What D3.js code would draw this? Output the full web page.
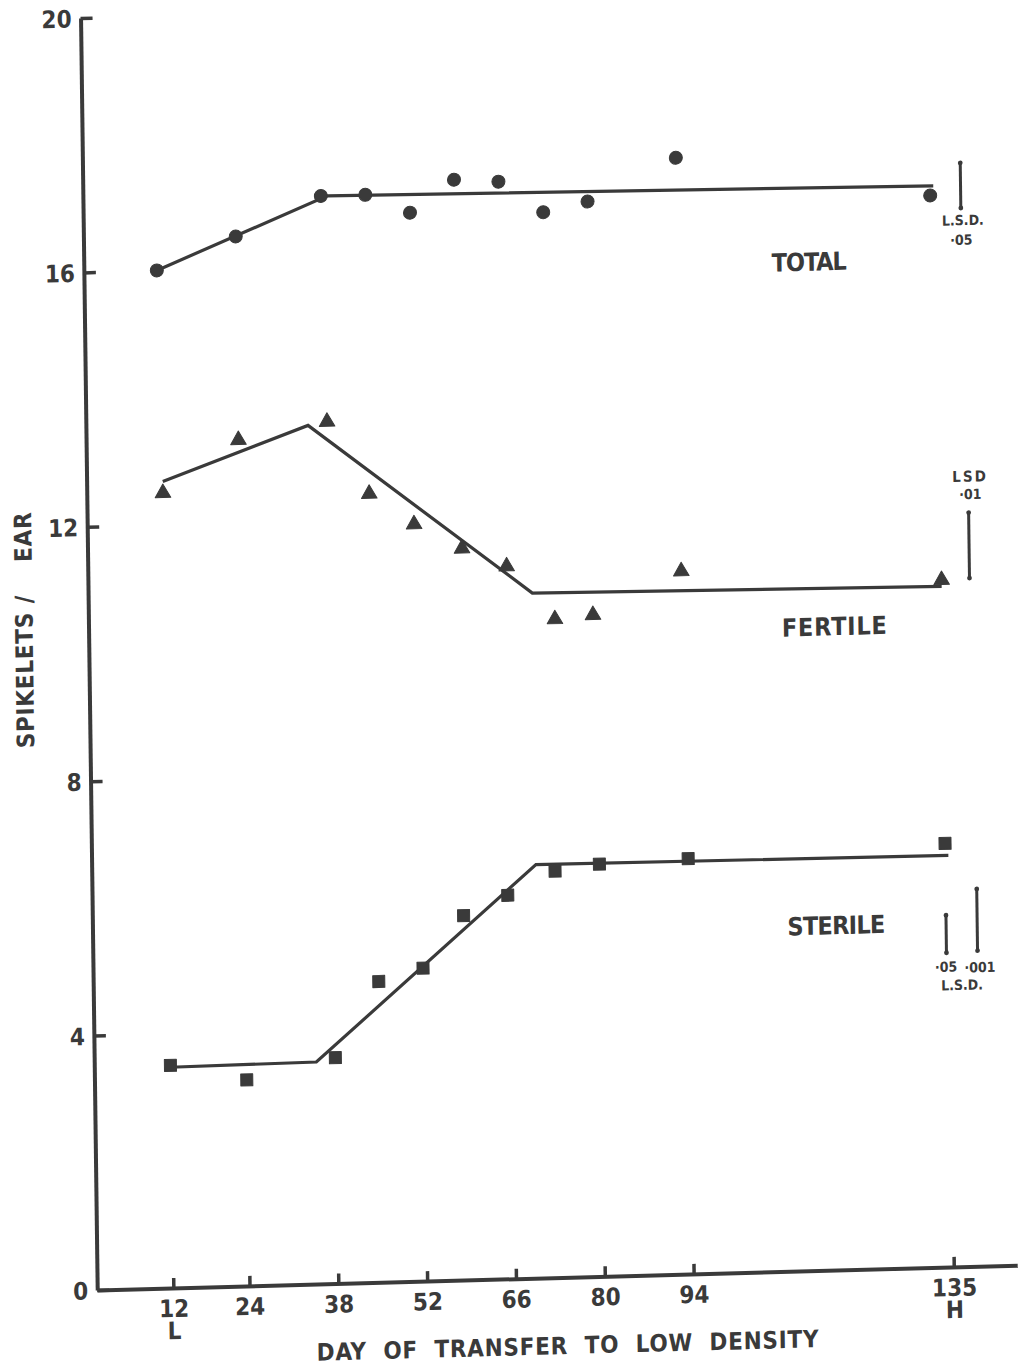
<!DOCTYPE html>
<html>
<head>
<meta charset="utf-8">
<script src="https://cdn.jsdelivr.net/npm/d3@7"></script>
<style>
  body { margin: 0; background: #fff; }
  svg text {
    font-family: 'Liberation Sans Narrow', 'DejaVu Sans Condensed', 'DejaVu Sans', sans-serif;
    font-weight: bold;
    fill: #3a3a3a;
  }
</style>
</head>
<body>
<div id="chart"></div>
<script>
const ink = '#3a3a3a';

// days of transfer as plotted for each series
const totalDays = [11.5, 24, 37.5, 44.5, 51.5, 58.5, 65.5, 72.5, 79.5, 93.5, 133.5];
const totalValues = [16.0, 16.5, 17.1, 17.1, 16.8, 17.3, 17.25, 16.75, 16.9, 17.55, 16.85];

const fertileDays = [12, 24, 38, 44.5, 51.5, 59, 66, 73.5, 79.5, 93.5, 134.5];
const fertileValues = [12.5, 13.3, 13.55, 12.4, 11.9, 11.5, 11.2, 10.35, 10.4, 11.05, 10.8];

const sterileDays = [12, 24, 38, 45, 52, 58.5, 65.5, 73, 80, 94, 134.5];
const sterileValues = [3.5, 3.24, 3.55, 4.73, 4.92, 5.73, 6.03, 6.39, 6.48, 6.53, 6.66];

// fitted broken-line trends
const totalFitDays = [11.5, 38.5, 134];
const totalFitValues = [16.0, 17.1, 17.0];
const fertileFitDays = [12, 35, 70, 134.5];
const fertileFitValues = [12.68, 13.5, 10.77, 10.7];
const sterileFitDays = [12, 35, 70, 135];
const sterileFitValues = [3.47, 3.49, 6.5, 6.47];

// least significant differences
const lsdValues = [0.71, 1.03, 0.59, 0.97];
const lsdNames = ['·05', '·01', '·05', '·001'];

const seriesNames = ['TOTAL', 'FERTILE', 'STERILE'];
const yTicks = [0, 4, 8, 12, 16, 20];
const xTicks = [12, 24, 38, 52, 66, 80, 94, 135];
const xSubLabels = {12: 'L', 135: 'H'};

const width = 1027, height = 1366;

// the scanned figure is slightly sheared; reproduce with a group matrix
const originX = 97.2, originY = 1290;
const shearY = -0.027, shearX = 0.0131;

const xScale = d3.scaleLinear().domain([0, 145]).range([0, 920]);
const yScale = d3.scaleLinear().domain([0, 20]).range([0, -1272]);

const svg = d3.select('#chart').append('svg')
    .attr('width', width)
    .attr('height', height);

svg.append('rect').attr('width', width).attr('height', height).attr('fill', '#fff');

const g = svg.append('g')
    .attr('transform', `matrix(1,${shearY},${shearX},1,${originX},${originY})`);

// axes
const yAxis = d3.axisLeft(yScale)
    .tickValues(yTicks)
    .tickSize(-12)
    .tickSizeOuter(0)
    .tickPadding(9);

const xAxis = d3.axisBottom(xScale)
    .tickValues(xTicks)
    .tickSize(-10)
    .tickSizeOuter(0)
    .tickPadding(12);

const yG = g.append('g').attr('color', ink).call(yAxis);
const xG = g.append('g').attr('color', ink).call(xAxis);

[yG, xG].forEach(a => {
    a.attr('font-family', null).attr('font-size', null);
    a.select('.domain').attr('stroke-width', 4);
    a.selectAll('.tick line').attr('stroke-width', 3.5);
    a.selectAll('.tick text').style('font-size', '24px');
});
yG.selectAll('.tick text').attr('dy', '0.36em');

xG.selectAll('.tick')
  .filter(d => xSubLabels[d])
  .append('text')
    .attr('y', 34)
    .attr('dy', '0.71em')
    .attr('text-anchor', 'middle')
    .style('font-size', '24px')
    .text(d => xSubLabels[d]);

// axis titles
g.append('text')
    .attr('x', xScale(74))
    .attr('y', 68)
    .attr('dy', '0.36em')
    .attr('text-anchor', 'middle')
    .attr('textLength', 502)
    .style('white-space', 'pre')
    .style('font-size', '24px')
    .text('DAY  OF  TRANSFER  TO  LOW  DENSITY');

g.append('text')
    .attr('transform', `translate(-64.5,${yScale(10.4)}) rotate(-90)`)
    .attr('dy', '0.36em')
    .attr('text-anchor', 'middle')
    .attr('textLength', 236)
    .style('white-space', 'pre')
    .style('font-size', '24px')
    .text('SPIKELETS /    EAR');

// fitted lines
const line = d3.line()
    .x(d => xScale(d[0]))
    .y(d => yScale(d[1]));

const fits = [
    d3.zip(totalFitDays, totalFitValues),
    d3.zip(fertileFitDays, fertileFitValues),
    d3.zip(sterileFitDays, sterileFitValues)
];

g.selectAll('path.fit')
  .data(fits)
  .join('path')
    .attr('class', 'fit')
    .attr('d', line)
    .attr('fill', 'none')
    .attr('stroke', ink)
    .attr('stroke-width', 3.2);

// points
const series = [
    {days: totalDays, values: totalValues, symbol: d3.symbolCircle, size: 133},
    {days: fertileDays, values: fertileValues, symbol: d3.symbolTriangle, size: 105},
    {days: sterileDays, values: sterileValues, symbol: d3.symbolSquare, size: 144}
];

series.forEach(s => {
    g.append('g')
      .selectAll('path')
      .data(d3.zip(s.days, s.values))
      .join('path')
        .attr('transform', d => `translate(${xScale(d[0])},${yScale(d[1])})`)
        .attr('d', d3.symbol(s.symbol, s.size))
        .attr('fill', ink)
        .attr('stroke', ink)
        .attr('stroke-width', 1)
        .attr('stroke-linejoin', 'round');
});

// series labels
const labelSpots = [
    {day: 114.3, v: 15.86, w: 75},
    {day: 117.5, v: 10.12, w: 105},
    {day: 117.2, v: 5.42, w: 98}
];

g.selectAll('text.series')
  .data(seriesNames)
  .join('text')
    .attr('class', 'series')
    .attr('x', (d, i) => xScale(labelSpots[i].day))
    .attr('y', (d, i) => yScale(labelSpots[i].v))
    .attr('dy', '0.36em')
    .attr('text-anchor', 'middle')
    .attr('textLength', (d, i) => labelSpots[i].w)
    .style('font-size', '25px')
    .text(d => d);

// LSD bars
const lsdSpots = [
    {day: 138.3, base: 16.64},
    {day: 138.9, base: 10.82},
    {day: 134.5, base: 4.94},
    {day: 139.4, base: 4.96}
];

const lsdG = g.append('g');
lsdValues.forEach((len, i) => {
    const p = lsdSpots[i];
    const x = xScale(p.day);
    const y0 = yScale(p.base), y1 = yScale(p.base + len);
    lsdG.append('line')
        .attr('x1', x).attr('x2', x)
        .attr('y1', y0).attr('y2', y1)
        .attr('stroke', ink)
        .attr('stroke-width', 3);
    [y0, y1].forEach(y => {
        lsdG.append('circle').attr('cx', x).attr('cy', y).attr('r', 2.4).attr('fill', ink);
    });
});

const lsdTexts = [
    {t: 'L.S.D.', day: 138.6, v: 16.45},
    {t: lsdNames[0], day: 138.3, v: 16.14},
    {t: 'LSD', day: 139.2, v: 12.42},
    {t: lsdNames[1], day: 139.2, v: 12.14},
    {t: lsdNames[2], day: 134.4, v: 4.72},
    {t: lsdNames[3], day: 139.75, v: 4.70},
    {t: 'L.S.D.', day: 136.9, v: 4.43}
];

lsdG.selectAll('text')
  .data(lsdTexts)
  .join('text')
    .attr('x', d => xScale(d.day))
    .attr('y', d => yScale(d.v))
    .attr('dy', '0.36em')
    .attr('text-anchor', 'middle')
    .style('font-size', d => d.t === 'LSD' ? '15px' : '14px')
    .style('letter-spacing', d => d.t === 'LSD' ? '2px' : '0px')
    .text(d => d.t);
</script>
</body>
</html>
